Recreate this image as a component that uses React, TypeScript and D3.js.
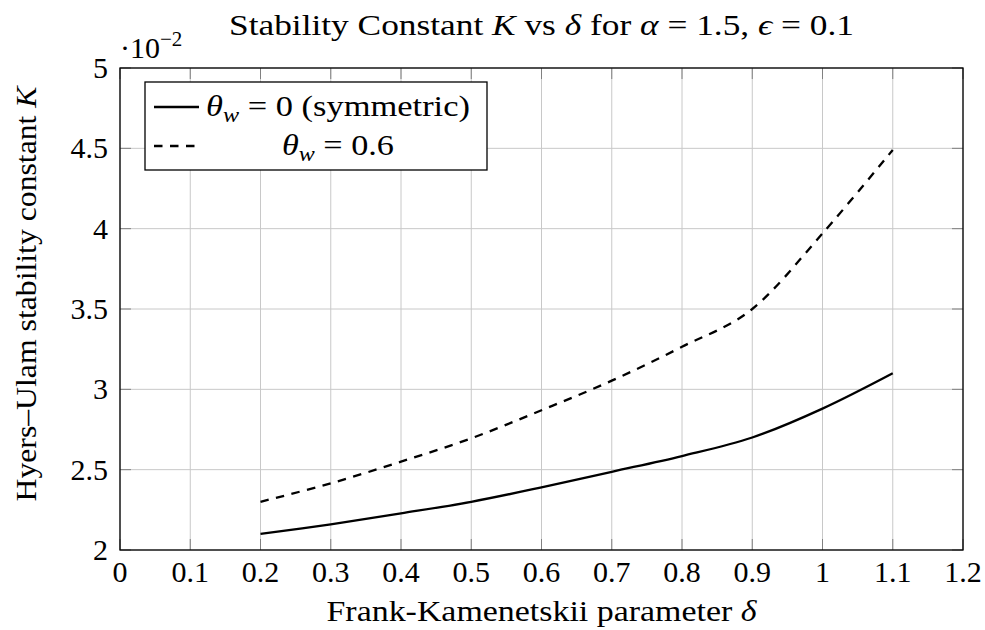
import React, { useEffect, useRef } from 'react';
import * as d3 from 'd3';

// Frank-Kamenetskii parameter delta
const delta = [0.2, 0.3, 0.4, 0.5, 0.6, 0.7, 0.8, 0.9, 1.0, 1.1];
// Hyers-Ulam stability constant K, theta_w = 0 (symmetric)
const kSymmetric = [0.0210, 0.0216, 0.02228, 0.0230, 0.0239, 0.02487, 0.02585, 0.0270, 0.0288, 0.0310];
// theta_w = 0.6
const kAsymmetric = [0.0230, 0.02415, 0.0255, 0.02695, 0.0287, 0.03054, 0.03265, 0.0350, 0.0397, 0.0449];

const xTicks = [0, 0.1, 0.2, 0.3, 0.4, 0.5, 0.6, 0.7, 0.8, 0.9, 1.0, 1.1, 1.2];
const yTicks = [0.02, 0.025, 0.03, 0.035, 0.04, 0.045, 0.05];

const FONT = '"Liberation Serif", "DejaVu Serif", serif';

const Chart = () => {
  const svgRef = useRef<SVGSVGElement>(null);

  useEffect(() => {
    const svg = d3.select(svgRef.current);
    svg.selectAll('*').remove();

    const W = 985;
    const H = 630;
    const margin = { top: 68, right: 22, bottom: 80, left: 120 };
    const width = W - margin.left - margin.right;
    const height = H - margin.top - margin.bottom;

    const x = d3.scaleLinear().domain([0, 1.2]).range([0, width]);
    const y = d3.scaleLinear().domain([0.02, 0.05]).range([height, 0]);

    const g = svg.append('g')
      .attr('transform', `translate(${margin.left},${margin.top})`);

    // grid
    g.append('g')
      .selectAll('line')
      .data(xTicks)
      .enter()
      .append('line')
      .attr('x1', d => x(d)).attr('x2', d => x(d))
      .attr('y1', 0).attr('y2', height)
      .attr('stroke', '#c8c8c8').attr('stroke-width', 1);

    g.append('g')
      .selectAll('line')
      .data(yTicks)
      .enter()
      .append('line')
      .attr('x1', 0).attr('x2', width)
      .attr('y1', d => y(d)).attr('y2', d => y(d))
      .attr('stroke', '#c8c8c8').attr('stroke-width', 1);

    // inward ticks on all four sides
    const tl = 11;
    const ticks = g.append('g').attr('stroke', '#808080').attr('stroke-width', 1);
    xTicks.forEach(t => {
      ticks.append('line').attr('x1', x(t)).attr('x2', x(t)).attr('y1', height).attr('y2', height - tl);
      ticks.append('line').attr('x1', x(t)).attr('x2', x(t)).attr('y1', 0).attr('y2', tl);
    });
    yTicks.forEach(t => {
      ticks.append('line').attr('x1', 0).attr('x2', tl).attr('y1', y(t)).attr('y2', y(t));
      ticks.append('line').attr('x1', width).attr('x2', width - tl).attr('y1', y(t)).attr('y2', y(t));
    });

    // tick labels
    g.append('g')
      .selectAll('text')
      .data(xTicks)
      .enter()
      .append('text')
      .attr('x', d => x(d))
      .attr('y', height + 32)
      .attr('text-anchor', 'middle')
      .style('font-family', FONT)
      .style('font-size', '30px')
      .text(d => d3.format('~g')(d));

    g.append('g')
      .selectAll('text')
      .data(yTicks)
      .enter()
      .append('text')
      .attr('x', -12)
      .attr('y', d => y(d) + 10)
      .attr('text-anchor', 'end')
      .style('font-family', FONT)
      .style('font-size', '30px')
      .text(d => d3.format('~g')(+(d * 100).toFixed(2)));

    // scale factor label
    const sf = g.append('text')
      .attr('x', 0)
      .attr('y', -10)
      .style('font-family', FONT)
      .style('font-size', '30px');
    sf.append('tspan').text('·10');
    sf.append('tspan').attr('dy', -12).style('font-size', '21px').text('−2');

    // curves
    const line = d3.line<number>()
      .x((_, i) => x(delta[i]))
      .y(d => y(d))
      .curve(d3.curveCardinal.tension(0));

    g.append('path')
      .datum(kSymmetric)
      .attr('d', line)
      .attr('fill', 'none')
      .attr('stroke', '#000')
      .attr('stroke-width', 2.3);

    g.append('path')
      .datum(kAsymmetric)
      .attr('d', line)
      .attr('fill', 'none')
      .attr('stroke', '#000')
      .attr('stroke-width', 2.3)
      .attr('stroke-dasharray', '8.5,7.5');

    // frame
    g.append('rect')
      .attr('width', width)
      .attr('height', height)
      .attr('fill', 'none')
      .attr('stroke', '#000')
      .attr('stroke-width', 1.3);

    // legend
    const legend = g.append('g').attr('transform', 'translate(25,14)');
    legend.append('rect')
      .attr('width', 342)
      .attr('height', 88)
      .attr('fill', '#fff')
      .attr('stroke', '#000')
      .attr('stroke-width', 1.3);

    const entries = [
      { dash: null, rest: ' = 0 (symmetric)', len: 264 },
      { dash: '8.5,7.5', rest: ' = 0.6', len: 112 },
    ];
    entries.forEach((e, i) => {
      const cy = 25 + i * 39;
      legend.append('line')
        .attr('x1', 9).attr('x2', 54)
        .attr('y1', cy).attr('y2', cy)
        .attr('stroke', '#000')
        .attr('stroke-width', 2.3)
        .attr('stroke-dasharray', e.dash);
      const t = legend.append('text')
        .attr('x', 193)
        .attr('y', cy + 9)
        .attr('text-anchor', 'middle')
        .attr('textLength', e.len)
        .attr('lengthAdjust', 'spacingAndGlyphs')
        .style('font-family', FONT)
        .style('font-size', '30px');
      t.append('tspan').style('font-style', 'italic').text('θ');
      t.append('tspan').attr('dy', 6).style('font-style', 'italic').style('font-size', '21px').text('w');
      t.append('tspan').attr('dy', -6).text(e.rest);
    });

    // title
    const title = svg.append('text')
      .attr('x', margin.left + width / 2)
      .attr('y', 35)
      .attr('text-anchor', 'middle')
      .attr('textLength', 625)
      .attr('lengthAdjust', 'spacingAndGlyphs')
      .style('font-family', FONT)
      .style('font-size', '30px');
    title.append('tspan').text('Stability Constant ');
    title.append('tspan').style('font-style', 'italic').text('K');
    title.append('tspan').text(' vs ');
    title.append('tspan').style('font-style', 'italic').text('δ');
    title.append('tspan').text(' for ');
    title.append('tspan').style('font-style', 'italic').text('α');
    title.append('tspan').text(' = 1.5, ');
    title.append('tspan').style('font-style', 'italic').text('ϵ');
    title.append('tspan').text(' = 0.1');

    // x label
    const xl = svg.append('text')
      .attr('x', margin.left + width / 2)
      .attr('y', 621)
      .attr('text-anchor', 'middle')
      .attr('textLength', 430)
      .attr('lengthAdjust', 'spacingAndGlyphs')
      .style('font-family', FONT)
      .style('font-size', '30px');
    xl.append('tspan').text('Frank-Kamenetskii parameter ');
    xl.append('tspan').style('font-style', 'italic').text('δ');

    // y label
    const yl = svg.append('text')
      .attr('transform', 'translate(36,294) rotate(-90)')
      .attr('text-anchor', 'middle')
      .attr('textLength', 415)
      .attr('lengthAdjust', 'spacingAndGlyphs')
      .style('font-family', FONT)
      .style('font-size', '30px');
    yl.append('tspan').text('Hyers–Ulam stability constant ');
    yl.append('tspan').style('font-style', 'italic').text('K');
  }, []);

  return (
    <svg
      ref={svgRef}
      width={985}
      height={630}
      style={{ position: 'absolute', left: 0, top: 0, background: '#fff' }}
    />
  );
};

export default function App() {
  return <Chart />;
}
